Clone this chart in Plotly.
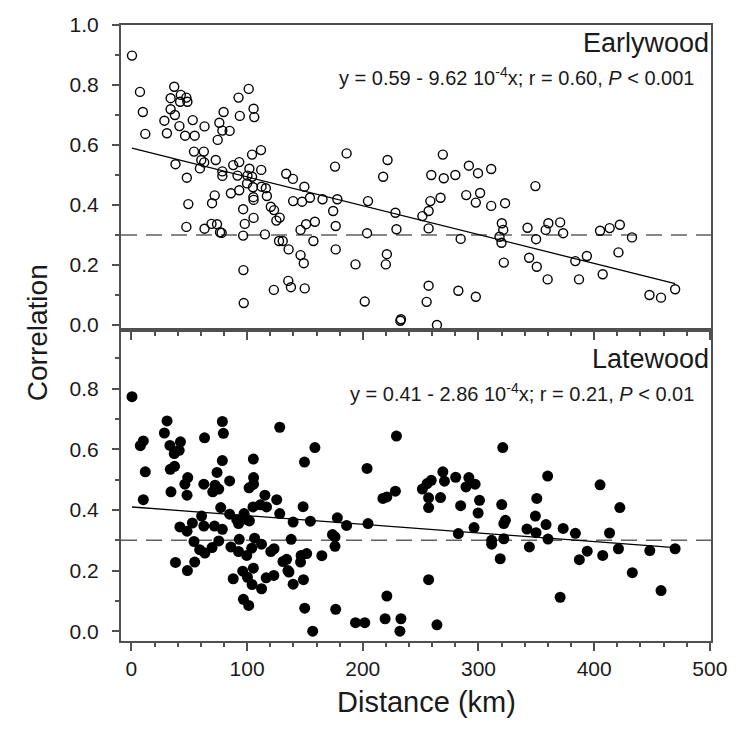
import plotly.graph_objects as go
from plotly.subplots import make_subplots

# ---------------- data ----------------
early_dist = [0.5, 7.4, 9.9, 12, 28.5, 30.7, 33.9, 33.9, 37, 37.6, 41.5, 42.1, 42.7, 46.4, 47.5, 48.4, 53, 54.7,
              38.1, 47.9, 54.1, 59.2, 60.4, 62.6, 62.9, 63.2, 72.9, 74.6, 76, 78.6, 79.7, 78.6, 78.6, 84.9, 88,
              92.6, 93.2, 93.7, 91.7, 101.4, 105.6, 106.2, 104.3, 102, 100.3, 104.3, 112, 112.2, 133.8, 139.6,
              176, 186, 217.6, 221.4, 269.2, 259.2, 270, 280, 291.7, 299.6, 311, 301.4, 297.7, 311, 323, 349.2,
              320.2, 321.4, 318.2, 319.9, 321.9, 342.4, 349.8, 343.8, 350.4, 359.8, 358.1, 360.4, 370.6, 373.2,
              383.7, 393.7, 386.9, 405.1, 413.4, 422.2, 421, 407.4, 432.7, 447.8, 457.8, 470, 297.7, 49.2, 47.5,
              63.2, 69.2, 74, 69.7, 72, 76.6, 78, 86, 93.2, 96.6, 98, 96.6, 96.8, 97.1, 100, 105.1, 105.4, 105.6,
              105.6, 112.5, 116.2, 117.1, 115.4, 120.5, 123.3, 125.3, 128.2, 127.6, 130.8, 135.9, 139.8, 147.5,
              149.5, 154.3, 151, 146.2, 146.2, 149, 157.3, 158.6, 135.6, 137.9, 149.8, 123.1, 165.2, 178, 174.4,
              176.6, 176.6, 193.7, 201.7, 203.7, 204.5, 220.8, 219.9, 228.2, 229.1, 232.5, 233, 251.5, 256.9,
              258.4, 256.9, 256.9, 255.2, 264.1, 267.2, 289.4, 282.6, 284.6]
early_corr = [0.898, 0.777, 0.71, 0.637, 0.681, 0.639, 0.756, 0.719, 0.794, 0.70, 0.663, 0.744, 0.767, 0.631,
              0.758, 0.744, 0.683, 0.631, 0.536, 0.491, 0.578, 0.522, 0.55, 0.578, 0.542, 0.662, 0.55, 0.617,
              0.674, 0.648, 0.71, 0.512, 0.497, 0.647, 0.533, 0.758, 0.543, 0.697, 0.498, 0.787, 0.721, 0.693,
              0.568, 0.521, 0.498, 0.494, 0.583, 0.517, 0.504, 0.487, 0.528, 0.572, 0.494, 0.55, 0.568, 0.5,
              0.489, 0.5, 0.531, 0.506, 0.52, 0.44, 0.408, 0.397, 0.406, 0.463, 0.339, 0.317, 0.294, 0.274,
              0.208, 0.324, 0.286, 0.224, 0.194, 0.152, 0.317, 0.339, 0.342, 0.306, 0.213, 0.23, 0.152, 0.314,
              0.323, 0.334, 0.242, 0.169, 0.292, 0.1, 0.091, 0.119, 0.094, 0.403, 0.327, 0.321, 0.337, 0.336,
              0.406, 0.432, 0.309, 0.307, 0.439, 0.449, 0.386, 0.337, 0.298, 0.183, 0.073, 0.472, 0.459, 0.426,
              0.417, 0.357, 0.461, 0.456, 0.43, 0.302, 0.394, 0.383, 0.348, 0.358, 0.28, 0.28, 0.252, 0.413,
              0.411, 0.461, 0.424, 0.336, 0.317, 0.233, 0.206, 0.28, 0.344, 0.147, 0.126, 0.122, 0.117, 0.419,
              0.419, 0.38, 0.33, 0.252, 0.202, 0.078, 0.306, 0.413, 0.236, 0.202, 0.374, 0.319, 0.014, 0.019,
              0.363, 0.38, 0.413, 0.322, 0.131, 0.077, 0.0, 0.424, 0.433, 0.114, 0.287]

late_dist = [0.5, 30.8, 28.5, 78.6, 79.5, 128.2, 63.2, 10.3, 7.7, 42.4, 33.3, 41.3, 37, 158.6, 78.6, 105.4, 149.6,
             37.3, 33.6, 12, 74, 48.7, 46.2, 84.9, 62.6, 72.3, 70.3, 75.5, 105.6, 105.6, 101.7, 34.2, 48.1, 10.3,
             115.4, 125.6, 148.4, 154.7, 139.8, 128.2, 111.4, 105.1, 116.8, 77.2, 60.7, 84.9, 91.1, 92.6, 97.4,
             95.4, 102, 100.3, 52.7, 41.9, 48.1, 62.6, 71.8, 78.6, 75.5, 54.1, 93.2, 106.5, 112.5, 86, 92.6,
             99.7, 104, 69.7, 59, 63.5, 138.1, 120.5, 123.3, 131, 134.2, 146.7, 151.5, 146.2, 38.1, 54.7, 48.4,
             96.2, 100.3, 105.4, 104.3, 116.5, 123.1, 135.3, 136.2, 139.8, 148.7, 88, 112.5, 96.8, 101.4, 149.8,
             156.7, 178, 186, 204.5, 173.8, 176, 176, 164.6, 176.6, 193.7, 201.7, 220.8, 219.3, 233, 232.1,
             256.9, 264.1, 217.4, 220.8, 228.2, 256.9, 256.9, 267.2, 284.6, 300.9, 299.7, 296.2, 282.6, 311.4,
             311.4, 318.8, 320.1, 323.3, 321.9, 321.9, 229.1, 203.7, 321, 269.2, 280.3, 259.2, 255.6, 270.6,
             291.7, 289.2, 297.1, 251.5, 359.8, 405.1, 350.4, 349.2, 341.9, 349.8, 344, 358.4, 360.1, 373.2,
             383.8, 394, 387.2, 370.6, 407.4, 413.3, 422.2, 421, 433, 448.1, 457.8, 470]
late_corr = [0.774, 0.694, 0.654, 0.692, 0.653, 0.673, 0.638, 0.628, 0.612, 0.625, 0.613, 0.597, 0.586, 0.606,
             0.563, 0.568, 0.558, 0.544, 0.534, 0.526, 0.524, 0.507, 0.485, 0.496, 0.485, 0.482, 0.46, 0.469,
             0.507, 0.485, 0.473, 0.46, 0.449, 0.434, 0.449, 0.434, 0.411, 0.363, 0.36, 0.388, 0.417, 0.41,
             0.41, 0.408, 0.38, 0.386, 0.368, 0.355, 0.388, 0.368, 0.364, 0.368, 0.357, 0.344, 0.33, 0.347,
             0.347, 0.336, 0.298, 0.296, 0.303, 0.307, 0.287, 0.278, 0.263, 0.25, 0.274, 0.276, 0.269, 0.258,
             0.303, 0.263, 0.272, 0.23, 0.237, 0.25, 0.256, 0.228, 0.227, 0.228, 0.2, 0.198, 0.178, 0.208,
             0.154, 0.176, 0.184, 0.2, 0.195, 0.155, 0.17, 0.173, 0.14, 0.105, 0.085, 0.076, 0.0, 0.374, 0.349,
             0.355, 0.319, 0.311, 0.28, 0.249, 0.072, 0.028, 0.028, 0.116, 0.041, 0.041, 0.0, 0.17, 0.021,
             0.438, 0.443, 0.462, 0.44, 0.408, 0.441, 0.414, 0.432, 0.39, 0.342, 0.322, 0.3, 0.287, 0.239,
             0.418, 0.366, 0.355, 0.305, 0.644, 0.537, 0.606, 0.526, 0.508, 0.498, 0.487, 0.495, 0.507, 0.476,
             0.485, 0.469, 0.512, 0.483, 0.438, 0.38, 0.337, 0.325, 0.278, 0.352, 0.304, 0.339, 0.323, 0.264,
             0.236, 0.112, 0.25, 0.324, 0.408, 0.272, 0.193, 0.266, 0.134, 0.272]

early_intercept, early_slope = 0.59, -9.62e-4
late_intercept, late_slope = 0.41, -2.86e-4
threshold = 0.3

panel_labels = ["Earlywood", "Latewood"]
equations = ["y = 0.59 - 9.62 10<sup>-4</sup>x; r = 0.60, <i>P</i> < 0.001",
             "y = 0.41 - 2.86 10<sup>-4</sup>x; r = 0.21, <i>P</i> < 0.01"]

# ---------------- figure ----------------
FONT = "Liberation Sans, Arial, sans-serif"
AX = "#505050"
TXT = "#1a1a1a"

fig = make_subplots(rows=2, cols=1, shared_xaxes=True, vertical_spacing=0,
                    row_heights=[0.4951, 0.5049])

fig.add_trace(go.Scatter(x=early_dist, y=early_corr, mode="markers",
                         marker=dict(symbol="circle-open", size=9, color="black",
                                     line=dict(width=1.4, color="black")),
                         showlegend=False), row=1, col=1)
fig.add_trace(go.Scatter(x=late_dist, y=late_corr, mode="markers",
                         marker=dict(symbol="circle", size=11, color="black"),
                         showlegend=False), row=2, col=1)

for r, (b0, b1, xs) in enumerate([(early_intercept, early_slope, early_dist),
                                  (late_intercept, late_slope, late_dist)], start=1):
    lx = [min(xs), max(xs)]
    ly = [b0 + b1 * v for v in lx]
    fig.add_trace(go.Scatter(x=lx, y=ly, mode="lines", line=dict(color="black", width=1.3),
                             showlegend=False), row=r, col=1)
    fig.add_shape(type="line", xref="x domain" if r == 1 else "x2 domain",
                  yref="y" if r == 1 else "y2", x0=0, x1=1, y0=threshold, y1=threshold,
                  line=dict(color="#606060", width=1.6, dash="16px,9px"), layer="below")

common_y = dict(showline=True, linecolor=AX, linewidth=2, mirror=True, ticks="outside",
                ticklen=7, tickwidth=1.5, tickcolor=AX, tick0=0, dtick=0.2, tickformat=".1f",
                minor=dict(dtick=0.1, ticks="outside", ticklen=4, tickwidth=1.5, tickcolor=AX),
                showgrid=False, zeroline=False, ticklabelstandoff=9,
                tickfont=dict(family=FONT, size=21, color=TXT))
fig.update_yaxes(range=[-0.0167, 1.0], row=1, col=1, **common_y)
fig.update_yaxes(range=[-0.0324, 0.994], row=2, col=1, **common_y)

common_x = dict(showline=True, linecolor=AX, linewidth=2, mirror=True, ticks="outside",
                ticklen=8, tickwidth=1.5, tickcolor=AX, tick0=0, dtick=100, range=[-9, 501],
                minor=dict(dtick=20, ticks="outside", ticklen=4, tickwidth=1.5, tickcolor=AX),
                showgrid=False, zeroline=False,
                tickfont=dict(family=FONT, size=21, color=TXT))
fig.update_xaxes(row=1, col=1, showticklabels=False, **common_x)
fig.update_xaxes(row=2, col=1, ticklabelstandoff=0, **common_x)

annos = []
annos.append(dict(text="Correlation", x=-0.142, y=0.5, xref="paper", yref="paper",
                  textangle=-90, showarrow=False, xanchor="center", yanchor="middle",
                  font=dict(family=FONT, size=28, color=TXT)))
annos.append(dict(text="Distance (km)", x=0.5176, y=-0.099, xref="paper", yref="paper",
                  showarrow=False, xanchor="center", yanchor="middle",
                  font=dict(family=FONT, size=29, color=TXT)))
lab_y = [0.970, 0.457]
eq_y = [0.9156, 0.4042]
for i in range(2):
    annos.append(dict(text=panel_labels[i], x=1.0, y=lab_y[i], xref="paper", yref="paper",
                      showarrow=False, xanchor="right", yanchor="middle",
                      font=dict(family=FONT, size=27, color=TXT)))
    annos.append(dict(text=equations[i], x=0.975, y=eq_y[i], xref="paper", yref="paper",
                      showarrow=False, xanchor="right", yanchor="middle",
                      font=dict(family=FONT, size=20, color=TXT)))

fig.update_layout(width=739, height=731, margin=dict(l=121, r=21, t=25, b=90),
                  paper_bgcolor="white", plot_bgcolor="white", annotations=annos,
                  font=dict(family=FONT))

fig.write_html("out.html")
